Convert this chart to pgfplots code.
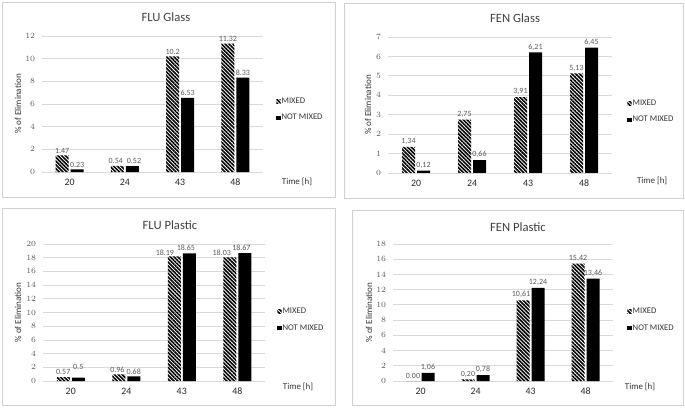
\documentclass[border=0pt]{standalone}
\usepackage{pgfplots}
\pgfplotsset{compat=1.18}
\usepackage{fontspec}
\setmainfont{Carlito}
\usetikzlibrary{patterns.meta}
\definecolor{txtgray}{HTML}{595959}
\definecolor{gridgray}{HTML}{D9D9D9}
\definecolor{framegray}{HTML}{D0D0D0}
\definecolor{titlegray}{HTML}{404040}

\pgfplotsset{
  every axis title shift=0pt,
  panel/.style={
    scale only axis, anchor=north west, clip=false,
    ybar=1.5pt, bar width=9.75pt,
    ymin=0,
    xmin=-0.5, xmax=3.5,
    xtick={0,1,2,3}, xticklabels={20,24,43,48},
    axis line style={draw=none},
    tick style={draw=none}, major tick length=0pt,
    ymajorgrids, grid style={gridgray, line width=0.6pt},
    yticklabel style={font=\fontsize{5.7}{6}\selectfont, text=txtgray, inner sep=0pt, xshift=-5pt},
    xticklabel style={font=\fontsize{7.4}{8}\selectfont, text=black!85, inner sep=0pt, yshift=-5pt},
    ylabel={\% of Elimination},
    ylabel style={font=\fontsize{6.8}{7}\selectfont, text=black!80, anchor=center},
    title style={font=\fontsize{9.5}{11}\selectfont, text=titlegray, anchor=center},
    xlabel={Time [h]},
    xlabel style={font=\fontsize{6.7}{7}\selectfont, text=black!80, anchor=center},
    nodes near coords,
    point meta=explicit symbolic,
    every node near coord/.append style={font=\fontsize{6}{7}\selectfont, text=txtgray, inner sep=1.5pt, xshift=\dx pt, yshift=\dy pt},
    legend style={draw=none, fill=none, font=\fontsize{6.5}{7}\selectfont, text=black!80, anchor=west, inner sep=0pt, row sep=5pt, column sep=0pt, nodes={inner sep=0.8pt}},
    legend cell align=left,
  },
  labshift/.style={visualization depends on={value \thisrow{dx} \as \dx},
    visualization depends on={value \thisrow{dy} \as \dy}},
  mixed/.style={labshift, draw=none, pattern={Lines[angle=-45,distance=2pt,line width=1.2pt]}, area legend,
    legend image code/.code={\path[##1] (0pt,-1.6pt) rectangle (3.2pt,1.6pt);}},
  notmixed/.style={labshift, draw=none, fill=black, area legend,
    legend image code/.code={\path[##1] (0pt,-1.6pt) rectangle (3.2pt,1.6pt);}},
}

\begin{document}
\begin{tikzpicture}
\begin{scope}[x=0.75pt,y=-0.75pt]
  \path[use as bounding box] (0,0) rectangle (685,407);
  \draw[framegray, line width=0.6pt] (2,2) rectangle (335,197);
  \draw[framegray, line width=0.6pt] (344,3) rectangle (683,198);
  \draw[framegray, line width=0.6pt] (2,208) rectangle (335,405);
  \draw[framegray, line width=0.6pt] (352,210) rectangle (683,405);
\end{scope}

% FLU Glass
\begin{axis}[panel, at={(31.5pt,-27pt)}, width=165.75pt, height=102pt,
  ymax=12, ytick distance=2,
  title={FLU Glass}, title style={at={(axis description cs:0.561,1.14)}},
  ylabel style={at={(axis description cs:-0.109,0.5)}},
  xlabel style={at={(axis description cs:1.154,-0.075)}},
  legend style={at={(axis description cs:1.059,0.456)}}]
\addplot[mixed] table[x=x,y=y,meta=lab] {
x y lab dx dy
0 1.47 1.47 0 0
1 0.54 0.54 -1.2 0
2 10.2 10.2 0 0
3 11.32 11.32 0 0
};
\addplot[notmixed] table[x=x,y=y,meta=lab] {
x y lab dx dy
0 0.23 0.23 0 0
1 0.52 0.52 1.2 0
2 6.53 6.53 0 0
3 8.33 8.33 0 0
};
\legend{MIXED, NOT MIXED}
\end{axis}

% FEN Glass
\begin{axis}[panel, at={(291pt,-27.75pt)}, width=168pt, height=102pt,
  ymax=7, ytick distance=1,
  title={FEN Glass}, title style={at={(axis description cs:0.567,1.14)}},
  ylabel style={at={(axis description cs:-0.089,0.5)}},
  xlabel style={at={(axis description cs:1.179,-0.06)}},
  legend style={at={(axis description cs:1.067,0.449)}}]
\addplot[mixed] table[x=x,y=y,meta=lab] {
x y lab dx dy
0 1.34 1,34 0 0
1 2.75 2,75 0 0
2 3.91 3,91 0 0
3 5.13 5,13 0 0
};
\addplot[notmixed] table[x=x,y=y,meta=lab] {
x y lab dx dy
0 0.12 0,12 0 0
1 0.66 0,66 0 0
2 6.21 6,21 0 0
3 6.45 6,45 0 0
};
\legend{MIXED, NOT MIXED}
\end{axis}

% FLU Plastic
\begin{axis}[panel, at={(32.25pt,-183pt)}, width=166.5pt, height=102.75pt,
  ymax=20, ytick distance=2,
  title={FLU Plastic}, title style={at={(axis description cs:0.572,1.139)}},
  ylabel style={at={(axis description cs:-0.113,0.5)}},
  xlabel style={at={(axis description cs:1.149,-0.044)}},
  legend style={at={(axis description cs:1.054,0.445)}}]
\addplot[mixed] table[x=x,y=y,meta=lab] {
x y lab dx dy
0 0.57 0.57 0 0
1 0.96 0.96 -1 0
2 18.19 18.19 -7 -1
3 18.03 18.03 -6 0
};
\addplot[notmixed] table[x=x,y=y,meta=lab] {
x y lab dx dy
0 0.5 0.5 0 4
1 0.68 0.68 0 0
2 18.65 18.65 -2.5 0
3 18.67 18.67 -2.5 0
};
\legend{MIXED, NOT MIXED}
\end{axis}

% FEN Plastic
\begin{axis}[panel, at={(294.75pt,-183pt)}, width=165pt, height=102.75pt,
  ymax=18, ytick distance=2,
  title={FEN Plastic}, title style={at={(axis description cs:0.568,1.124)}},
  ylabel style={at={(axis description cs:-0.109,0.5)}},
  xlabel style={at={(axis description cs:1.123,-0.044)}},
  legend style={at={(axis description cs:1.064,0.445)}}]
\addplot[mixed] table[x=x,y=y,meta=lab] {
x y lab dx dy
0 0.00 0.00 0 0
1 0.20 0,20 0 0
2 10.61 10,61 -1.5 0
3 15.42 15,42 0 0
};
\addplot[notmixed] table[x=x,y=y,meta=lab] {
x y lab dx dy
0 1.06 1,06 0 0
1 0.78 0,78 0 0
2 12.24 12,24 0 0
3 13.46 13,46 0 0
};
\legend{MIXED, NOT MIXED}
\end{axis}
\end{tikzpicture}
\end{document}
